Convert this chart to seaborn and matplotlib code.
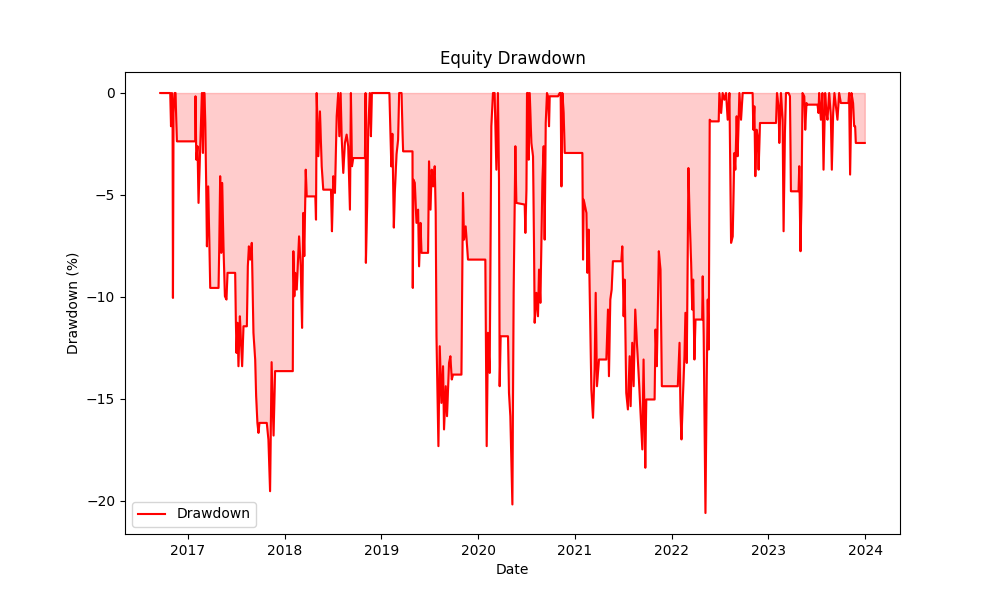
import numpy as np
import pandas as pd
import matplotlib
matplotlib.use("Agg")
import matplotlib.pyplot as plt
import seaborn as sns

# Dates as decimal years
years = [
    2016.714, 2016.817, 2016.825, 2016.835, 2016.841, 2016.845, 2016.851, 2016.862, 2016.872, 2016.879,
    2016.886, 2017.075, 2017.078, 2017.086, 2017.099, 2017.109, 2017.127, 2017.137, 2017.144, 2017.155,
    2017.161, 2017.171, 2017.179, 2017.189, 2017.196, 2017.209, 2017.220, 2017.230, 2017.316, 2017.323,
    2017.333, 2017.344, 2017.354, 2017.367, 2017.382, 2017.398, 2017.409, 2017.488, 2017.495, 2017.502,
    2017.512, 2017.522, 2017.537, 2017.547, 2017.560, 2017.574, 2017.609, 2017.619, 2017.630, 2017.643,
    2017.660, 2017.677, 2017.695, 2017.705, 2017.718, 2017.729, 2017.739, 2017.815, 2017.832, 2017.849,
    2017.865, 2017.885, 2017.901, 2018.084, 2018.090, 2018.100, 2018.110, 2018.125, 2018.149, 2018.166,
    2018.180, 2018.193, 2018.203, 2018.218, 2018.228, 2018.317, 2018.324, 2018.331, 2018.348, 2018.365,
    2018.383, 2018.399, 2018.479, 2018.489, 2018.503, 2018.520, 2018.538, 2018.554, 2018.565, 2018.579,
    2018.589, 2018.606, 2018.623, 2018.641, 2018.657, 2018.675, 2018.685, 2018.696, 2018.709, 2018.830,
    2018.837, 2018.840, 2018.853, 2018.864, 2018.881, 2018.892, 2018.902, 2019.070, 2019.083, 2019.103,
    2019.114, 2019.129, 2019.139, 2019.157, 2019.173, 2019.184, 2019.209, 2019.219, 2019.225, 2019.322,
    2019.325, 2019.332, 2019.346, 2019.363, 2019.380, 2019.390, 2019.405, 2019.415, 2019.483, 2019.493,
    2019.508, 2019.521, 2019.535, 2019.552, 2019.562, 2019.570, 2019.590, 2019.604, 2019.621, 2019.638,
    2019.648, 2019.666, 2019.679, 2019.700, 2019.714, 2019.728, 2019.741, 2019.828, 2019.844, 2019.855,
    2019.872, 2019.896, 2020.075, 2020.089, 2020.102, 2020.120, 2020.137, 2020.154, 2020.171, 2020.189,
    2020.205, 2020.216, 2020.223, 2020.233, 2020.309, 2020.319, 2020.333, 2020.354, 2020.367, 2020.385,
    2020.395, 2020.481, 2020.488, 2020.499, 2020.505, 2020.515, 2020.522, 2020.533, 2020.550, 2020.567,
    2020.577, 2020.584, 2020.602, 2020.618, 2020.629, 2020.643, 2020.653, 2020.664, 2020.677, 2020.687,
    2020.698, 2020.711, 2020.721, 2020.732, 2020.739, 2020.825, 2020.842, 2020.852, 2020.860, 2020.870,
    2020.883, 2020.894, 2021.076, 2021.083, 2021.090, 2021.118, 2021.128, 2021.141, 2021.152, 2021.169,
    2021.186, 2021.203, 2021.214, 2021.227, 2021.248, 2021.324, 2021.341, 2021.351, 2021.365, 2021.379,
    2021.392, 2021.479, 2021.489, 2021.503, 2021.513, 2021.530, 2021.547, 2021.565, 2021.575, 2021.592,
    2021.606, 2021.623, 2021.640, 2021.661, 2021.678, 2021.696, 2021.709, 2021.727, 2021.737, 2021.823,
    2021.833, 2021.846, 2021.867, 2021.884, 2021.898, 2022.063, 2022.081, 2022.091, 2022.101, 2022.115,
    2022.132, 2022.142, 2022.156, 2022.173, 2022.184, 2022.201, 2022.212, 2022.222, 2022.235, 2022.246,
    2022.315, 2022.321, 2022.331, 2022.349, 2022.362, 2022.373, 2022.383, 2022.393, 2022.408, 2022.486,
    2022.493, 2022.511, 2022.527, 2022.545, 2022.562, 2022.579, 2022.597, 2022.614, 2022.631, 2022.648,
    2022.658, 2022.672, 2022.682, 2022.700, 2022.717, 2022.734, 2022.837, 2022.844, 2022.855, 2022.865,
    2022.878, 2022.889, 2022.899, 2022.913, 2023.079, 2023.089, 2023.105, 2023.113, 2023.130, 2023.147,
    2023.157, 2023.171, 2023.182, 2023.209, 2023.223, 2023.233, 2023.312, 2023.319, 2023.326, 2023.332,
    2023.343, 2023.353, 2023.371, 2023.381, 2023.394, 2023.405, 2023.508, 2023.518, 2023.525, 2023.543,
    2023.559, 2023.570, 2023.587, 2023.601, 2023.611, 2023.629, 2023.646, 2023.656, 2023.670, 2023.683,
    2023.698, 2023.714, 2023.732, 2023.749, 2023.828, 2023.835, 2023.845, 2023.859, 2023.876, 2023.887,
    2023.897, 2023.904, 2023.997,
]

# Drawdown in percent (same order as years)
drawdown = [
    0.0, 0.0, -1.63, 0.0, -0.82, -10.05, -0.98, 0.0, 0.0, -1.31,
    -2.37, -2.37, -0.16, -3.27, -2.61, -5.39, -2.61, -1.14, 0.0, -2.94,
    0.0, 0.0, -1.47, -4.74, -7.52, -4.58, -7.03, -9.56, -9.56, -7.68,
    -4.08, -7.84, -4.41, -7.52, -9.97, -10.13, -8.82, -8.82, -11.10, -12.75,
    -11.27, -13.40, -10.95, -12.09, -13.40, -11.44, -11.44, -8.50, -7.52, -8.17,
    -7.35, -11.76, -13.07, -14.87, -16.18, -16.67, -16.18, -16.18, -17.00, -19.53,
    -13.20, -16.80, -13.64, -13.64, -7.76, -9.97, -8.82, -9.64, -7.03, -8.50,
    -11.52, -5.88, -8.00, -3.76, -5.07, -5.07, -6.21, 0.0, -3.10, -0.90,
    -3.59, -4.74, -4.74, -6.78, -4.08, -4.90, -1.14, 0.0, -2.12, 0.0,
    -2.12, -3.92, -2.45, -2.04, -2.61, -5.72, 0.0, -3.59, -3.19, -3.19,
    0.0, -8.33, -5.56, -1.80, 0.0, -2.12, 0.0, 0.0, 0.0, -3.60,
    -2.00, -6.60, -4.90, -3.00, -2.30, 0.0, 0.0, -1.96, -2.86, -2.86,
    -9.56, -4.25, -4.41, -6.37, -5.72, -8.50, -6.37, -7.84, -7.84, -3.35,
    -5.72, -3.76, -4.58, -3.59, -5.88, -11.93, -17.32, -12.42, -15.20, -13.40,
    -16.50, -14.38, -15.85, -13.24, -12.91, -14.05, -13.81, -13.81, -4.90, -7.19,
    -6.54, -8.17, -8.17, -17.32, -11.76, -13.73, -1.63, 0.0, 0.0, -3.76,
    0.0, -4.25, -14.38, -11.93, -11.93, -14.71, -15.85, -20.18, -9.80, -2.61,
    -5.39, -5.47, -6.86, -4.74, 0.0, 0.0, -3.27, 0.0, -2.45, -3.10,
    -7.35, -11.27, -9.80, -10.95, -8.66, -10.29, -7.52, -4.25, -2.61, -7.19,
    -1.47, 0.0, -0.16, -1.63, -0.16, -0.16, 0.0, 0.0, -4.58, 0.0,
    -0.98, -2.94, -2.94, -8.17, -5.23, -5.88, -8.82, -6.70, -9.80, -14.54,
    -15.93, -13.56, -9.80, -14.38, -13.07, -13.07, -10.62, -13.89, -10.13, -9.64,
    -8.25, -8.25, -7.52, -10.95, -9.15, -14.71, -15.52, -12.91, -15.36, -12.25,
    -14.38, -10.62, -12.25, -14.05, -15.69, -17.48, -13.07, -18.38, -15.03, -15.03,
    -11.60, -13.40, -7.76, -8.66, -14.38, -14.38, -12.25, -15.69, -16.99, -15.03,
    -12.91, -10.78, -13.24, -3.68, -5.88, -8.33, -10.62, -9.15, -13.07, -11.11,
    -11.11, -8.99, -11.93, -20.60, -14.05, -10.13, -12.58, -1.31, -1.39, -1.39,
    0.0, -0.98, 0.0, -0.33, 0.0, -1.31, 0.0, -7.35, -7.03, -2.94,
    -3.76, -1.14, -3.10, 0.0, -1.31, 0.0, 0.0, -1.80, -0.65, -4.08,
    -1.80, -2.12, -3.76, -1.47, -1.47, 0.0, -0.65, -2.45, 0.0, -1.31,
    -6.78, -1.96, 0.0, 0.0, -0.16, -4.82, -4.82, -3.59, -5.88, -7.76,
    -5.07, 0.0, -0.16, -1.80, -0.49, -0.57, -0.57, -0.98, 0.0, -1.31,
    0.0, -3.76, 0.0, -0.98, -1.31, 0.0, -1.14, -3.76, -0.98, 0.0,
    -0.65, -1.31, 0.0, -0.49, -0.49, 0.0, -4.00, 0.0, -0.49, -1.63,
    -1.63, -2.45, -2.45,
]


def to_datetime(y):
    yr = int(np.floor(y))
    start = pd.Timestamp(year=yr, month=1, day=1)
    end = pd.Timestamp(year=yr + 1, month=1, day=1)
    return start + (end - start) * (y - yr)


df = pd.DataFrame({
    "Date": [to_datetime(y) for y in years],
    "Drawdown": drawdown,
})

fig, ax = plt.subplots(figsize=(10, 6), dpi=100)
ax.fill_between(df["Date"], df["Drawdown"], 0, color="red", alpha=0.2)
sns.lineplot(data=df, x="Date", y="Drawdown", color="red", linewidth=1.5,
             label="Drawdown", ax=ax, sort=False, estimator=None)
ax.set_title("Equity Drawdown")
ax.set_xlabel("Date")
ax.set_ylabel("Drawdown (%)")
ax.legend(loc="lower left")
fig.savefig("out.png", dpi=100)
